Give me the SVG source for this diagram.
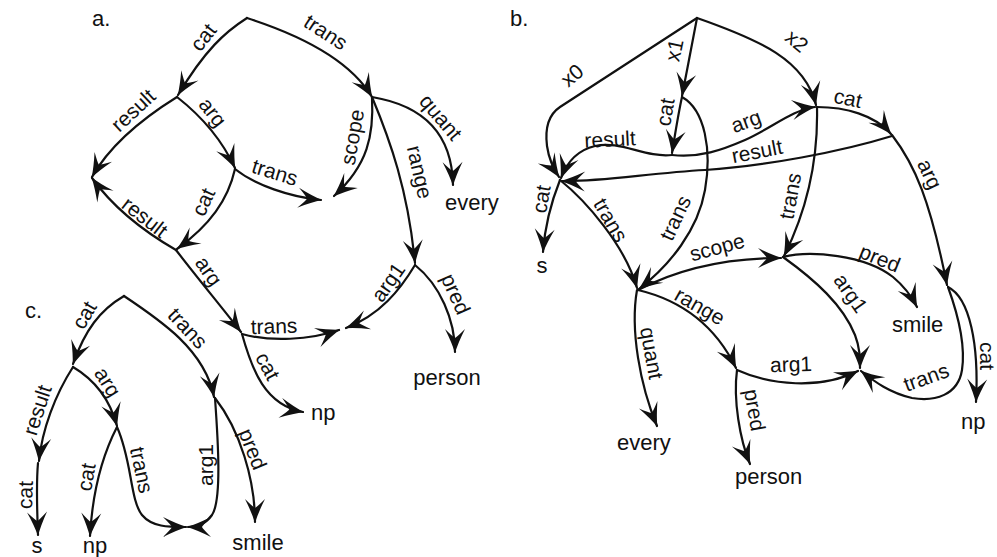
<svg xmlns="http://www.w3.org/2000/svg" width="997" height="557" viewBox="0 0 997 557">
  <style>
    .e { fill: none; stroke: #111; stroke-width: 2.2; stroke-linecap: round; marker-end: url(#dart); }
    .l { font-family: "Liberation Sans", Arial, sans-serif; font-size: 21px; fill: #111; text-anchor: middle; dominant-baseline: central; }
    .t { font-family: "Liberation Sans", Arial, sans-serif; font-size: 22px; fill: #111; }
  </style>
  <defs>
    <marker id="dart" markerUnits="userSpaceOnUse" markerWidth="32" markerHeight="26" viewBox="-26 -13 30 26" refX="0" refY="0" orient="auto">
      <path d="M1,0 Q-9,-3 -23,-10 Q-15,-2 -14,0 Q-15,2 -23,10 Q-9,3 1,0 Z" fill="#111"/>
    </marker>
  </defs>
  <rect width="997" height="557" fill="#fff"/>

  <!-- panel titles -->
  <text class="t" x="92" y="26">a.</text>
  <text class="t" x="510" y="26">b.</text>
  <text class="t" x="25" y="318">c.</text>

  <!-- ===== leaf value nodes ===== -->
  <g id="a-every"><text class="t" x="445" y="210">every</text></g>
  <g id="a-person"><text class="t" x="447" y="385" text-anchor="middle">person</text></g>
  <g id="a-np"><text class="t" x="311" y="420">np</text></g>

  <g id="b-s"><text class="t" x="542" y="273" text-anchor="middle">s</text></g>
  <g id="b-every"><text class="t" x="617" y="450">every</text></g>
  <g id="b-person"><text class="t" x="735" y="484">person</text></g>
  <g id="b-smile"><text class="t" x="892" y="332">smile</text></g>
  <g id="b-np"><text class="t" x="961" y="429">np</text></g>

  <g id="c-s"><text class="t" x="37" y="553" text-anchor="middle">s</text></g>
  <g id="c-np"><text class="t" x="95" y="553" text-anchor="middle">np</text></g>
  <g id="c-smile"><text class="t" x="258" y="550" text-anchor="middle">smile</text></g>

  <!-- ===== connectors ===== -->
  <g id="connectors">
    <!-- panel a -->
    <path class="e" d="M247,18 C225,32 205,50 178,95"/>
    <text class="l" transform="translate(203,37) rotate(-52)">cat</text>
    <path class="e" d="M247,18 C300,35 350,60 372,97"/>
    <text class="l" transform="translate(326,32) rotate(33)">trans</text>
    <path class="e" d="M177,97 C140,120 110,145 92,177"/>
    <text class="l" transform="translate(133,110) rotate(-43)">result</text>
    <path class="e" d="M177,97 C200,115 222,140 235,168"/>
    <text class="l" transform="translate(213,112) rotate(52)">arg</text>
    <path class="e" d="M235,169 C255,185 290,197 321,200"/>
    <text class="l" transform="translate(275,172) rotate(17)">trans</text>
    <path class="e" d="M372,97 C374,135 368,165 334,196"/>
    <text class="l" transform="translate(352,137) rotate(-80)">scope</text>
    <path class="e" d="M372,97 C420,105 452,130 453,185"/>
    <text class="l" transform="translate(441,117) rotate(50)">quant</text>
    <path class="e" d="M372,97 C390,140 408,190 415,263"/>
    <text class="l" transform="translate(420,172) rotate(77)">range</text>
    <path class="e" d="M235,169 C228,200 210,225 177,249"/>
    <text class="l" transform="translate(203,202) rotate(-65)">cat</text>
    <path class="e" d="M176,250 C150,235 115,210 92,178"/>
    <text class="l" transform="translate(145,217) rotate(38)">result</text>
    <path class="e" d="M176,250 C195,275 220,305 241,332"/>
    <text class="l" transform="translate(209,271) rotate(55)">arg</text>
    <path class="e" d="M242,334 C270,342 310,340 339,330"/>
    <text class="l" transform="translate(274,326) rotate(-2)">trans</text>
    <path class="e" d="M242,334 C252,370 265,405 303,412"/>
    <text class="l" transform="translate(268,366) rotate(62)">cat</text>
    <path class="e" d="M415,265 C400,290 380,315 346,328"/>
    <text class="l" transform="translate(388,282) rotate(-55)">arg1</text>
    <path class="e" d="M415,265 C440,285 455,320 455,352"/>
    <text class="l" transform="translate(456,294) rotate(66)">pred</text>

    <!-- panel b -->
    <path class="e" d="M697,18 L560,107 C548,115 545,130 547,146 C549,160 553,168 559,177"/>
    <text class="l" transform="translate(572,75) rotate(-40)">x0</text>
    <path class="e" d="M697,18 C692,45 687,70 682,96"/>
    <text class="l" transform="translate(674,50) rotate(-78)">x1</text>
    <path class="e" d="M697,18 C760,40 805,60 816,105"/>
    <text class="l" transform="translate(797,41) rotate(40)">x2</text>
    <path class="e" d="M682,97 C678,115 675,135 672,153"/>
    <text class="l" transform="translate(665,112) rotate(-80)">cat</text>
    <path class="e" d="M672,155 C645,158 620,140 595,146 C578,150 567,162 561,178"/>
    <text class="l" transform="translate(610,139) rotate(-3)">result</text>
    <path class="e" d="M672,155 C700,158 722,150 745,140 C772,128 792,110 815,107"/>
    <text class="l" transform="translate(746,121) rotate(-20)">arg</text>
    <path class="e" d="M817,107 C845,107 875,115 891,134"/>
    <text class="l" transform="translate(848,98) rotate(12)">cat</text>
    <path class="e" d="M892,136 C840,152 765,166 705,170 C650,173 600,182 562,181"/>
    <text class="l" transform="translate(757,151) rotate(-11)">result</text>
    <path class="e" d="M817,107 C818,150 812,200 784,256"/>
    <text class="l" transform="translate(790,196) rotate(-80)">trans</text>
    <path class="e" d="M892,135 C915,165 930,200 947,285"/>
    <text class="l" transform="translate(930,174) rotate(65)">arg</text>
    <path class="e" d="M948,287 C970,298 979,345 976,402"/>
    <text class="l" transform="translate(987,356) rotate(90)">cat</text>
    <path class="e" d="M948,287 C960,320 965,350 962,370 C958,395 935,402 912,398 C890,393 875,382 861,371"/>
    <text class="l" transform="translate(926,377) rotate(-20)">trans</text>
    <path class="e" d="M560,180 C552,200 545,225 543,252"/>
    <text class="l" transform="translate(541,199) rotate(-80)">cat</text>
    <path class="e" d="M560,180 C585,200 625,245 637,288"/>
    <text class="l" transform="translate(611,220) rotate(60)">trans</text>
    <path class="e" d="M682,97 C705,110 712,150 705,190 C698,230 670,265 639,289"/>
    <text class="l" transform="translate(675,218) rotate(-65)">trans</text>
    <path class="e" d="M638,290 C680,268 730,258 781,258"/>
    <text class="l" transform="translate(717,247) rotate(-15)">scope</text>
    <path class="e" d="M638,290 C680,300 715,325 736,368"/>
    <text class="l" transform="translate(700,306) rotate(30)">range</text>
    <path class="e" d="M637,290 C630,330 640,385 657,426"/>
    <text class="l" transform="translate(652,353) rotate(80)">quant</text>
    <path class="e" d="M737,370 C733,400 740,440 750,464"/>
    <text class="l" transform="translate(755,410) rotate(80)">pred</text>
    <path class="e" d="M737,370 C770,385 820,390 858,371"/>
    <text class="l" transform="translate(791,364) rotate(-2)">arg1</text>
    <path class="e" d="M783,257 C810,250 865,255 893,277 C905,287 912,297 917,307"/>
    <text class="l" transform="translate(880,258) rotate(22)">pred</text>
    <path class="e" d="M783,257 C815,280 843,305 855,335 C860,348 860,358 860,368"/>
    <text class="l" transform="translate(851,293) rotate(55)">arg1</text>

    <!-- panel c -->
    <path class="e" d="M124,296 C100,310 85,330 73,364"/>
    <text class="l" transform="translate(84,315) rotate(-60)">cat</text>
    <path class="e" d="M124,296 C160,320 205,350 214,397"/>
    <text class="l" transform="translate(188,328) rotate(47)">trans</text>
    <path class="e" d="M73,367 C55,395 42,430 39,461"/>
    <text class="l" transform="translate(37,410) rotate(-72)">result</text>
    <path class="e" d="M38,463 C36,485 37,510 38,535"/>
    <text class="l" transform="translate(25,495) rotate(-88)">cat</text>
    <path class="e" d="M73,367 C95,380 110,400 117,426"/>
    <text class="l" transform="translate(108,382) rotate(58)">arg</text>
    <path class="e" d="M117,427 C100,460 92,500 90,536"/>
    <text class="l" transform="translate(86,477) rotate(-80)">cat</text>
    <path class="e" d="M117,427 C132,460 130,500 142,515 C152,527 168,527 186,527"/>
    <text class="l" transform="translate(142,470) rotate(78)">trans</text>
    <path class="e" d="M215,398 C218,440 222,500 212,515 C205,525 196,527 188,527"/>
    <text class="l" transform="translate(205,465) rotate(-90)">arg1</text>
    <path class="e" d="M215,398 C240,430 255,480 255,522"/>
    <text class="l" transform="translate(253,449) rotate(68)">pred</text>
  </g>
</svg>
